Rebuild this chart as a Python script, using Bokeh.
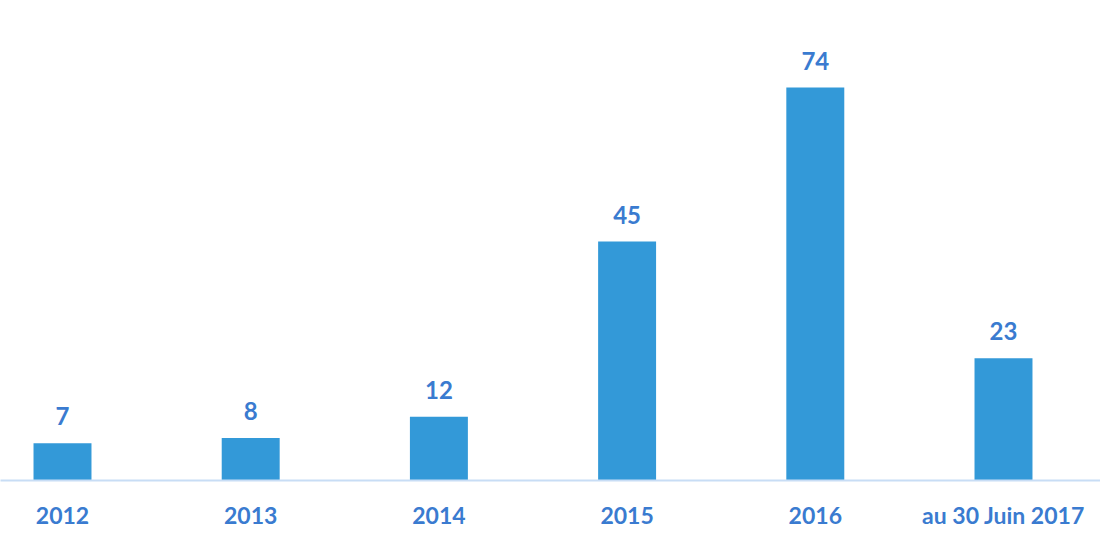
from bokeh.plotting import figure
from bokeh.models import ColumnDataSource, Range1d, FixedTicker
from bokeh.embed import file_html
from bokeh.resources import INLINE
from bokeh.core.properties import value

categories = ["2012", "2013", "2014", "2015", "2016", "au 30 Juin 2017"]
counts = [7, 8, 12, 45, 74, 23]

xs = list(range(len(categories)))
src = ColumnDataSource(dict(x=xs, top=counts, label=[str(c) for c in counts]))

px_per_cat = 188.2
frame_w = 1100
x_start = -62 / px_per_cat
x_end = x_start + frame_w / px_per_cat

p = figure(width=frame_w, height=536, output_backend="svg", toolbar_location=None,
           x_range=Range1d(x_start, x_end), y_range=Range1d(0, 480 / 5.31),
           min_border_left=0, min_border_right=0, min_border_top=0, min_border_bottom=56)
p.outline_line_color = None
p.grid.grid_line_color = None
p.yaxis.visible = False
p.background_fill_color = "white"
p.border_fill_color = "white"

p.vbar(x="x", top="top", width=0.308, bottom=0, source=src,
       fill_color="#3399D8", line_color=None)

p.text(x="x", y="top", text="label", source=src, text_align="center",
       text_baseline="alphabetic", y_offset=-27, text_font=value("Lato"),
       text_font_style="bold", text_font_size="24px", text_color="#3A7BD0")

ax = p.xaxis[0]
ax.ticker = FixedTicker(ticks=xs)
ax.major_label_overrides = {i: c for i, c in enumerate(categories)}
ax.major_tick_out = 0
ax.major_tick_in = 0
ax.minor_tick_out = 0
ax.minor_tick_in = 0
ax.axis_line_color = "#C8DDF5"
ax.axis_line_width = 2
ax.major_label_standoff = 20
ax.major_label_text_font = "Lato"
ax.major_label_text_font_style = "bold"
ax.major_label_text_font_size = "23px"
ax.major_label_text_color = "#3A7BD0"

open("out.html", "w").write(file_html(p, INLINE))
